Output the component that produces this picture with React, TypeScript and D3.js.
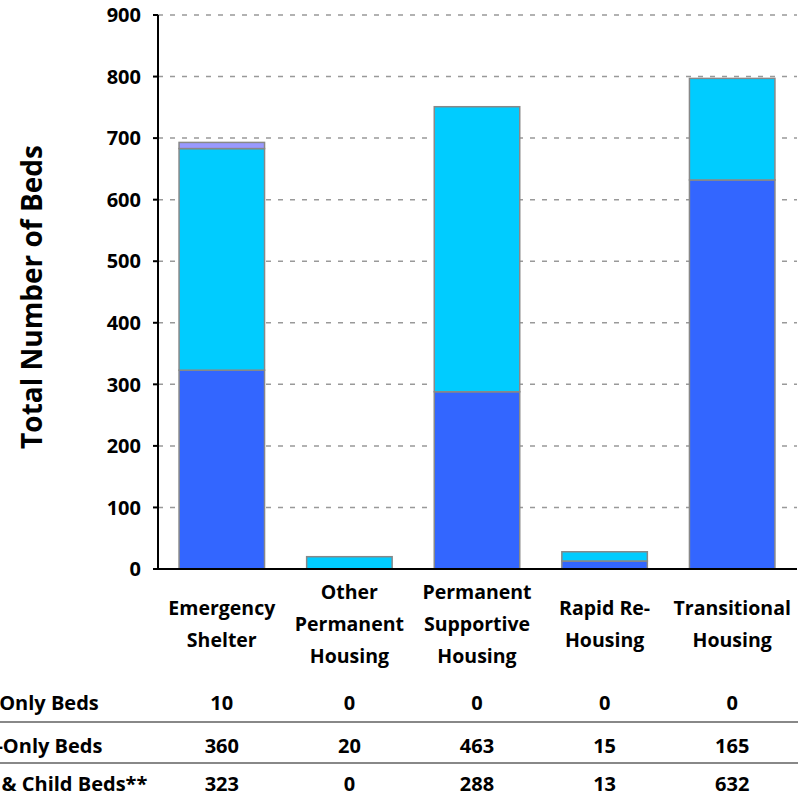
import React from "react";
import * as d3 from "d3";

const categories = [
  ["Emergency", "Shelter"],
  ["Other", "Permanent", "Housing"],
  ["Permanent", "Supportive", "Housing"],
  ["Rapid Re-", "Housing"],
  ["Transitional", "Housing"],
];
const seriesNames = ["Adult & Child Beds**", "Adult-Only Beds", "Child-Only Beds"];
const adultChild = [323, 0, 288, 13, 632];
const adultOnly = [360, 20, 463, 15, 165];
const childOnly = [10, 0, 0, 0, 0];
const yTicks = [0, 100, 200, 300, 400, 500, 600, 700, 800, 900];
const colors = ["#3366ff", "#00ccff", "#9999ff"];

const W = 798;
const H = 800;
const FONT = "'Open Sans', sans-serif";

export default function App() {
  const x = d3.scaleBand<number>().domain(d3.range(categories.length)).range([158, 796]).paddingInner(0.33).paddingOuter(0.165);
  const y = d3.scaleLinear().domain([0, 900]).range([569, 15]);
  const stackData = categories.map((_, i) => ({ i, s0: adultChild[i], s1: adultOnly[i], s2: childOnly[i] }));
  const stacked = d3.stack<any>().keys(["s0", "s1", "s2"])(stackData);
  const cx = (i: number) => (x(i) as number) + x.bandwidth() / 2;
  const tableRows = [
    { label: seriesNames[2], values: childOnly, y: 703 },
    { label: seriesNames[1], values: adultOnly, y: 746 },
    { label: seriesNames[0], values: adultChild, y: 784 },
  ];
  return (
    <svg width={W} height={H} style={{ display: "block", position: "absolute", left: 0, top: 0, background: "#fff" }} fontFamily={FONT}>
      {yTicks.filter((t) => t > 0).map((t) => (
        <line key={t} x1={158} x2={797} y1={y(t)} y2={y(t)} stroke="#999" strokeWidth={1.5} strokeDasharray="5,7" />
      ))}
      {stacked.map((layer, si) =>
        layer.map((d, i) => {
          const h = y(d[0]) - y(d[1]);
          if (h <= 0) return null;
          return (
            <rect key={si + "-" + i} x={x(i)} width={x.bandwidth()} y={y(d[1])} height={h} fill={colors[si]} stroke="#888" strokeWidth={1.5} />
          );
        })
      )}
      <line x1={158} x2={158} y1={y(900)} y2={y(0)} stroke="#000" strokeWidth={2} />
      <line x1={157} x2={797} y1={y(0)} y2={y(0)} stroke="#000" strokeWidth={2} />
      {yTicks.map((t) => (
        <g key={t}>
          <line x1={153} x2={158} y1={y(t)} y2={y(t)} stroke="#000" strokeWidth={2} />
          <text x={141} y={y(t)} dy="0.36em" textAnchor="end" fontSize={20} fontWeight={700} fill="#000">{t}</text>
        </g>
      ))}
      <text transform={`translate(42,297) rotate(-90)`} textAnchor="middle" fontSize={28} fontWeight={700} fill="#000">Total Number of Beds</text>
      {categories.map((lines, i) => {
        const lh = 32;
        const start = 624 - ((lines.length - 1) * lh) / 2;
        return (
          <text key={i} textAnchor="middle" fontSize={19.5} fontWeight={700} fill="#000">
            {lines.map((l, j) => (
              <tspan key={j} x={cx(i)} y={start + j * lh} dy="0.36em">{l}</tspan>
            ))}
          </text>
        );
      })}
      {tableRows.map((r, ri) => (
        <g key={ri}>
          <text x={-58} y={r.y} dy="0.36em" fontSize={20} fontWeight={700} fill="#000">{r.label}</text>
          {r.values.map((v, i) => (
            <text key={i} x={cx(i)} y={r.y} dy="0.36em" textAnchor="middle" fontSize={20} fontWeight={700} fill="#000">{v}</text>
          ))}
        </g>
      ))}
      <line x1={0} x2={798} y1={722} y2={722} stroke="#888" strokeWidth={2} />
      <line x1={0} x2={798} y1={763} y2={763} stroke="#888" strokeWidth={2} />
    </svg>
  );
}
